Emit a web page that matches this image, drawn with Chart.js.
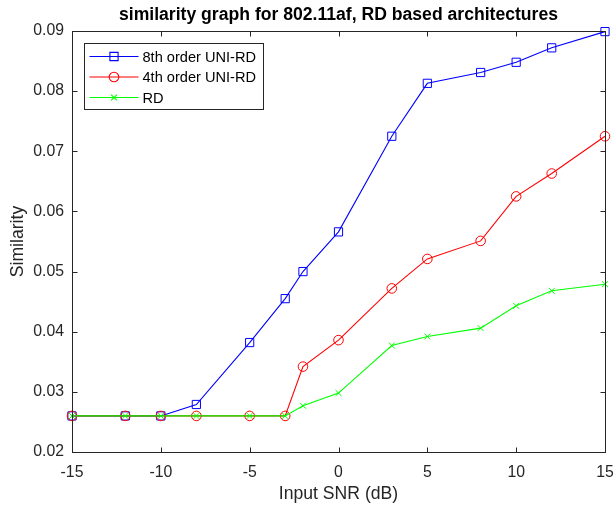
<!DOCTYPE html>
<html>
<head>
<meta charset="utf-8">
<script src="https://cdn.jsdelivr.net/npm/chart.js@4/dist/chart.umd.min.js"></script>
<style>
  html, body { margin: 0; padding: 0; background: #fff; }
  #wrap { width: 616px; height: 507px; }
</style>
</head>
<body>
<div id="wrap"><canvas id="chart"></canvas></div>
<script>
const snr = [-15, -12, -10, -8, -5, -3, -2, 0, 3, 5, 8, 10, 12, 15]
const uni8 = [0.026, 0.026, 0.026, 0.0279, 0.0382, 0.0455, 0.0500, 0.0566, 0.0725, 0.0813, 0.0831, 0.0848, 0.0872, 0.0899]
const uni4 = [0.026, 0.026, 0.026, 0.026, 0.026, 0.026, 0.0342, 0.0386, 0.0472, 0.0521, 0.0551, 0.0625, 0.0663, 0.0725]
const rd = [0.026, 0.026, 0.026, 0.026, 0.026, 0.026, 0.0277, 0.0298, 0.0377, 0.0392, 0.0406, 0.0443, 0.0468, 0.0479]
const seriesNames = ['8th order UNI-RD', '4th order UNI-RD', 'RD']
const chartTitle = 'similarity graph for 802.11af, RD based architectures'

const FONT = '"Liberation Sans", Arial, sans-serif'
const AXIS = '#262626'

function points(ys) {
    return snr.map((x, i) => ({ x: x, y: ys[i] }))
}

function makeSet(label, ys, color, style, radius, order) {
    return {
        label: label,
        data: points(ys),
        borderColor: color,
        backgroundColor: color,
        borderWidth: 1.1,
        tension: 0,
        pointStyle: style,
        pointRadius: radius,
        pointBorderWidth: 1,
        pointBorderColor: color,
        pointBackgroundColor: 'rgba(0,0,0,0)',
        pointHoverRadius: radius,
        clip: 12,
        order: order
    }
}

// box, inward ticks, title and legend drawn like the matlab figure
const framePlugin = {
    id: 'frame',
    afterDraw(chart) {
        const ctx = chart.ctx
        const a = chart.chartArea
        const xs = chart.scales.x
        const ys = chart.scales.y
        ctx.save()
        ctx.strokeStyle = AXIS
        ctx.lineWidth = 1
        const L = Math.round(a.left) + 0.5, R = Math.round(a.right) + 0.5
        const T = Math.round(a.top) + 0.5, B = Math.round(a.bottom) + 0.5
        ctx.strokeRect(L, T, R - L, B - T)
        ctx.beginPath()
        xs.ticks.forEach(t => {
            const px = Math.round(xs.getPixelForValue(t.value)) + 0.5
            ctx.moveTo(px, B); ctx.lineTo(px, B - 5)
            ctx.moveTo(px, T); ctx.lineTo(px, T + 5)
        })
        ys.ticks.forEach(t => {
            const py = Math.round(ys.getPixelForValue(t.value)) + 0.5
            ctx.moveTo(L, py); ctx.lineTo(L + 5, py)
            ctx.moveTo(R, py); ctx.lineTo(R - 5, py)
        })
        ctx.stroke()

        // title
        ctx.fillStyle = '#000'
        ctx.font = 'bold 17.6px ' + FONT
        ctx.textAlign = 'center'
        ctx.textBaseline = 'alphabetic'
        ctx.fillText(chartTitle, (a.left + a.right) / 2, 20)

        // legend
        const bx = Math.round(a.left) + 12.5, by = Math.round(a.top) + 12.5
        ctx.fillStyle = '#fff'
        ctx.fillRect(bx, by, 179, 66)
        ctx.strokeStyle = AXIS
        ctx.strokeRect(bx, by, 179, 66)
        ctx.font = '14.6px ' + FONT
        ctx.textAlign = 'left'
        ctx.textBaseline = 'middle'
        chart.data.datasets.forEach((ds, i) => {
            const y = by + 13 + i * 20.5
            ctx.strokeStyle = ds.borderColor
            ctx.lineWidth = 1.1
            ctx.beginPath()
            ctx.moveTo(bx + 5, y); ctx.lineTo(bx + 54, y)
            ctx.stroke()
            ctx.fillStyle = 'rgba(0,0,0,0)'
            Chart.helpers.drawPoint(ctx, {
                pointStyle: ds.pointStyle,
                radius: ds.pointRadius,
                borderWidth: 1,
                rotation: 0
            }, bx + 29.5, y)
            ctx.fillStyle = '#000'
            ctx.fillText(ds.label, bx + 58, y + 1)
        })
        ctx.restore()
    }
}

new Chart(document.getElementById('chart'), {
    type: 'line',
    data: {
        datasets: [
            makeSet(seriesNames[0], uni8, '#0000ff', 'rect', 5.8, 3),
            makeSet(seriesNames[1], uni4, '#ff0000', 'circle', 4.8, 2),
            makeSet(seriesNames[2], rd, '#00ff00', 'crossRot', 4.2, 1)
        ]
    },
    options: {
        responsive: true,
        maintainAspectRatio: false,
        animation: false,
        events: [],
        layout: { padding: { top: 31, right: 11, left: 0, bottom: 0 } },
        plugins: {
            legend: { display: false },
            tooltip: { enabled: false },
            title: { display: false }
        },
        scales: {
            x: {
                type: 'linear',
                min: -15,
                max: 15,
                grid: { display: false, drawTicks: false },
                border: { display: false },
                ticks: { stepSize: 5, color: AXIS, font: { family: FONT, size: 15.8 }, padding: 11, maxRotation: 0 },
                title: { display: true, text: 'Input SNR (dB)', color: AXIS, font: { family: FONT, size: 17.6 }, padding: { top: 0, bottom: 2 } },
                afterFit(s) { s.height = 55; s.paddingLeft = 0; s.paddingRight = 0 }
            },
            y: {
                min: 0.02,
                max: 0.09,
                grid: { display: false, drawTicks: false },
                border: { display: false },
                ticks: { stepSize: 0.01, color: AXIS, font: { family: FONT, size: 15.8 }, padding: 8, callback: v => v.toFixed(2) },
                title: { display: true, text: 'Similarity', color: AXIS, font: { family: FONT, size: 17.6 }, padding: { top: 8, bottom: 0 } },
                afterFit(s) { s.width = 72; s.paddingTop = 0; s.paddingBottom = 0 }
            }
        }
    },
    plugins: [framePlugin]
})
</script>
</body>
</html>
